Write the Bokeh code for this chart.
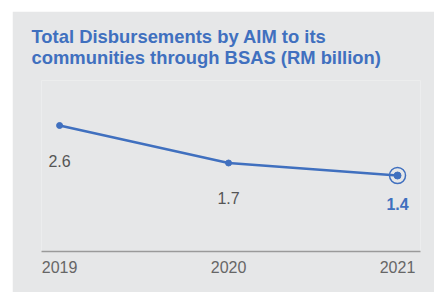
from bokeh.plotting import figure
from bokeh.models import ColumnDataSource, FixedTicker, Range1d
from bokeh.core.properties import value
from bokeh.embed import file_html
from bokeh.resources import INLINE

years = [2019, 2020, 2021]
disbursements = [2.6, 1.7, 1.4]
year_labels = ["2019", "2020", "2021"]

BLUE = "#4070BF"
GREY_BG = "#E6E7E8"
FONT = "Liberation Sans"

src = ColumnDataSource(dict(x=years, y=disbursements,
                            lbl=[f"{v:.1f}" for v in disbursements]))
src_hist = ColumnDataSource(dict(x=years[:-1], y=disbursements[:-1],
                                 lbl=[f"{v:.1f}" for v in disbursements[:-1]]))
src_last = ColumnDataSource(dict(x=years[-1:], y=disbursements[-1:],
                                 lbl=[f"{v:.1f}" for v in disbursements[-1:]]))

p = figure(width=422, height=281, output_backend="svg", toolbar_location=None,
           x_range=Range1d(2018.893, 2021.136), y_range=Range1d(-0.424, 3.68),
           y_axis_location=None, min_border_left=29, min_border_right=14,
           min_border_top=69, min_border_bottom=41, margin=(11, 0, 0, 12))
p.background_fill_color = GREY_BG
p.border_fill_color = GREY_BG
p.outline_line_color = None
p.grid.visible = False

p.title.text = "Total Disbursements by AIM to its\ncommunities through BSAS (RM billion)"
p.title.text_font = FONT
p.title.text_font_size = "18.4px"
p.title.text_font_style = "bold"
p.title.text_color = BLUE
p.title.align = "left"
p.title.offset = -10
p.title.standoff = 25

p.line("x", "y", source=src, line_color=BLUE, line_width=2.5)
p.scatter("x", "y", source=src_hist, size=6, fill_color=BLUE, line_color=BLUE)
p.scatter("x", "y", source=src_last, size=7, fill_color=BLUE, line_color=BLUE)
p.scatter("x", "y", source=src_last, size=16, fill_color=None, line_color=BLUE, line_width=1.5)

p.text("x", "y", text="lbl", source=src_hist, y_offset=35, text_align="center",
       text_baseline="middle", text_font=value(FONT), text_font_size="16px",
       text_color="#555555")
p.text("x", "y", text="lbl", source=src_last, y_offset=28, text_align="center",
       text_baseline="middle", text_font=value(FONT), text_font_size="16px",
       text_font_style="bold", text_color=BLUE)

ax = p.xaxis[0]
ax.ticker = FixedTicker(ticks=years)
ax.major_label_overrides = {y: l for y, l in zip(years, year_labels)}
ax.major_tick_in = 0
ax.major_tick_out = 0
ax.minor_tick_in = 0
ax.minor_tick_out = 0
ax.axis_line_color = "#9A9A9A"
ax.axis_line_width = 1.5
ax.major_label_standoff = 9
ax.major_label_text_font = FONT
ax.major_label_text_font_size = "16px"
ax.major_label_text_color = "#666666"

open("out.html", "w").write(file_html(p, INLINE))
